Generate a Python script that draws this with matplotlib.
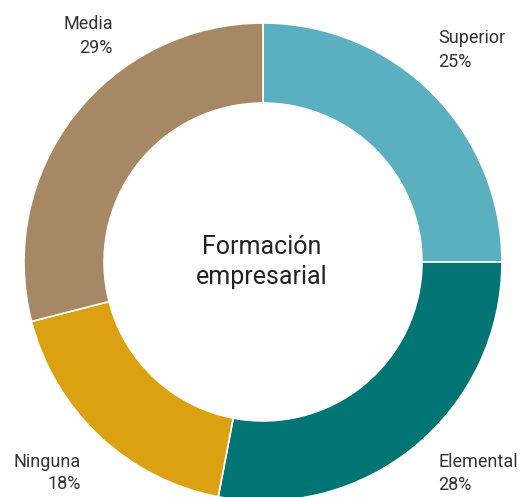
import matplotlib
matplotlib.use("Agg")
import matplotlib.pyplot as plt

categories = ["Superior", "Elemental", "Ninguna", "Media"]
values = [25, 28, 18, 29]
colors = ["#5AAFC1", "#007574", "#DBA111", "#A78864"]
center_lines = ["Formación", "empresarial"]

W, H, DPI = 526, 497, 100
fig = plt.figure(figsize=(W / DPI, H / DPI), dpi=DPI)
cx, cy, R = 263, 497 - 262, 239
ax = fig.add_axes([(cx - R) / W, (cy - R) / H, 2 * R / W, 2 * R / H])
ax.pie(values, colors=colors, startangle=90, counterclock=False, radius=1.0,
       wedgeprops=dict(width=0.335, edgecolor="white", linewidth=1.2))
ax.set_xlim(-1, 1)
ax.set_ylim(-1, 1)
ax.set_aspect("equal")
ax.axis("off")

font = "Roboto"

def t(px, py, text, ha, size, color="#333333"):
    fig.text(px / W, 1 - py / H, text, ha=ha, va="baseline", fontsize=size,
             family=font, fontweight="normal", color=color)

t(262, 254, center_lines[0], "center", 18, "#222222")
t(262, 284, center_lines[1], "center", 18, "#222222")

S = 13
t(438, 43, categories[0], "left", S)
t(438, 67, f"{values[0]}%", "left", S)
t(438, 467, categories[1], "left", S)
t(438, 490, f"{values[1]}%", "left", S)
t(81, 467, categories[2], "right", S)
t(81, 489, f"{values[2]}%", "right", S)
t(113, 29, categories[3], "right", S)
t(112, 53, f"{values[3]}%", "right", S)

fig.savefig("out.png", dpi=DPI)
